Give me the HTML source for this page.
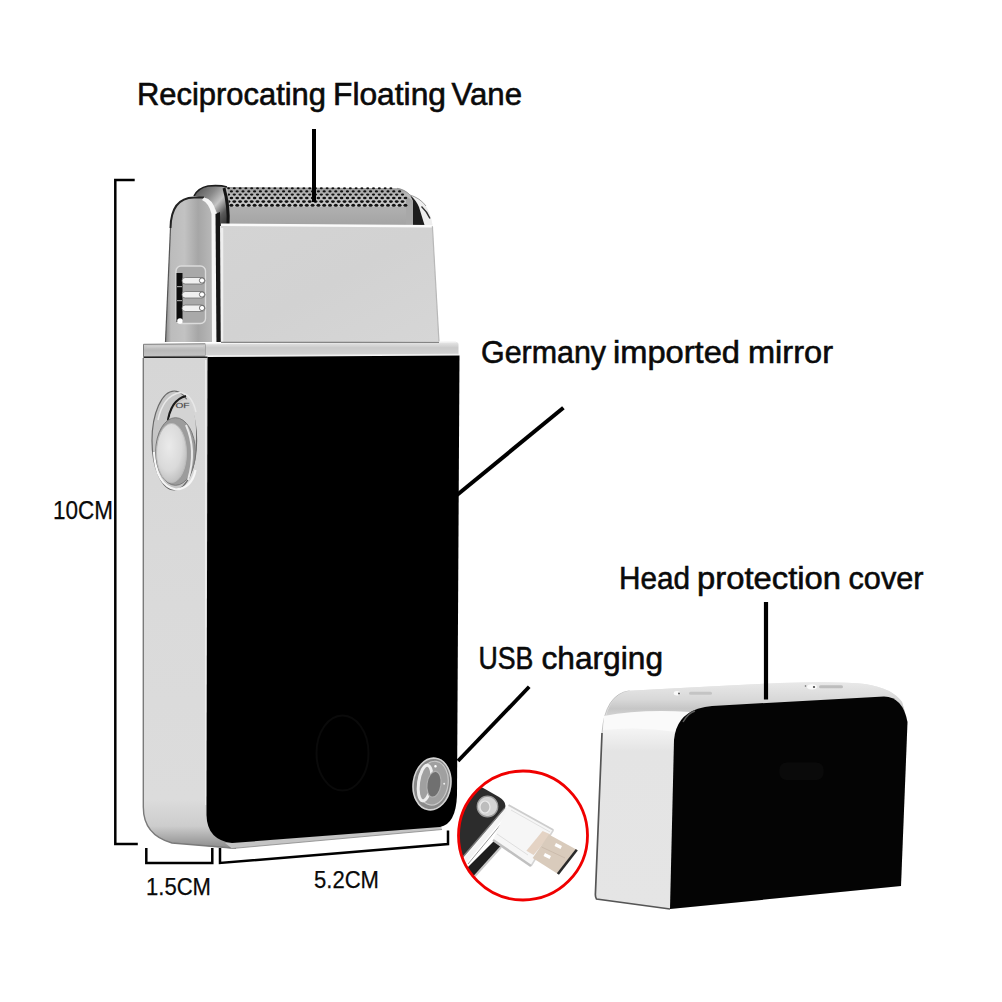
<!DOCTYPE html>
<html><head><meta charset="utf-8"><title>Shaver</title>
<style>
html,body{margin:0;padding:0;background:#fff;width:1002px;height:1002px;overflow:hidden}
svg{display:block}
text{font-family:"Liberation Sans",sans-serif;fill:#0a0a0a}
</style></head>
<body>
<svg width="1002" height="1002" viewBox="0 0 1002 1002">
<defs>
  <linearGradient id="sideG" gradientUnits="userSpaceOnUse" x1="0" y1="358" x2="0" y2="848">
    <stop offset="0" stop-color="#d6d6d6"/>
    <stop offset="0.5" stop-color="#dadada"/>
    <stop offset="0.9" stop-color="#dcdcdc"/>
    <stop offset="0.955" stop-color="#cdcdcd"/>
    <stop offset="1" stop-color="#8c8c8c"/>
  </linearGradient>
  <linearGradient id="plateG" x1="0" y1="0" x2="1" y2="1">
    <stop offset="0" stop-color="#d4d4d4"/>
    <stop offset="0.5" stop-color="#d2d2d2"/>
    <stop offset="1" stop-color="#d6d6d6"/>
  </linearGradient>
  <linearGradient id="sidePieceG" x1="0" y1="0" x2="1" y2="0">
    <stop offset="0" stop-color="#8a8a8a"/>
    <stop offset="0.1" stop-color="#bcbcbc"/>
    <stop offset="0.35" stop-color="#c2c2c2"/>
    <stop offset="0.6" stop-color="#a6a6a6"/>
    <stop offset="0.85" stop-color="#b8b8b8"/>
    <stop offset="1" stop-color="#d0d0d0"/>
  </linearGradient>
  <pattern id="mesh" width="5.8" height="6.6" patternUnits="userSpaceOnUse" x="226" y="187">
    <rect width="5.8" height="6.6" fill="#d2d2d2"/>
    <ellipse cx="1.5" cy="1.6" rx="1.35" ry="1.15" fill="#111"/>
    <ellipse cx="4.4" cy="4.9" rx="1.35" ry="1.15" fill="#111"/>
  </pattern>
  <linearGradient id="foilShade" x1="0" y1="0" x2="0" y2="1">
    <stop offset="0" stop-color="#000" stop-opacity="0.25"/>
    <stop offset="0.4" stop-color="#000" stop-opacity="0.08"/>
    <stop offset="1" stop-color="#000" stop-opacity="0"/>
  </linearGradient>
  <linearGradient id="foilLow" x1="0" y1="0" x2="0" y2="1">
    <stop offset="0" stop-color="#b0b0b0"/>
    <stop offset="1" stop-color="#a4a4a4"/>
  </linearGradient>
  <linearGradient id="coverSideG" gradientUnits="userSpaceOnUse" x1="0" y1="684" x2="0" y2="909">
    <stop offset="0" stop-color="#e6e6e6"/>
    <stop offset="0.08" stop-color="#dadada"/>
    <stop offset="0.2" stop-color="#f4f4f4"/>
    <stop offset="0.3" stop-color="#e4e4e4"/>
    <stop offset="1" stop-color="#e5e5e5"/>
  </linearGradient>
  <radialGradient id="btnG" cx="0.42" cy="0.38" r="0.7">
    <stop offset="0" stop-color="#eaeaea"/>
    <stop offset="0.6" stop-color="#dadada"/>
    <stop offset="1" stop-color="#b8b8b8"/>
  </radialGradient>
  <linearGradient id="rimL" x1="0" y1="0" x2="0" y2="1">
    <stop offset="0" stop-color="#d4d4d4"/>
    <stop offset="0.5" stop-color="#b8b8b8"/>
    <stop offset="1" stop-color="#c4c4c4"/>
  </linearGradient>
  <linearGradient id="rimR" x1="0" y1="0" x2="0" y2="1">
    <stop offset="0" stop-color="#e8e8e8"/>
    <stop offset="0.4" stop-color="#cacaca"/>
    <stop offset="1" stop-color="#d4d4d4"/>
  </linearGradient>
  <linearGradient id="capG" x1="0" y1="0" x2="1" y2="1">
    <stop offset="0" stop-color="#4a4a4a"/>
    <stop offset="0.35" stop-color="#8a8a8a"/>
    <stop offset="0.55" stop-color="#c4c4c4"/>
    <stop offset="0.75" stop-color="#5a5a5a"/>
    <stop offset="1" stop-color="#2a2a2a"/>
  </linearGradient>
  <linearGradient id="coverTopG" gradientUnits="userSpaceOnUse" x1="0" y1="683" x2="0" y2="716">
    <stop offset="0" stop-color="#e8e8e8"/>
    <stop offset="0.5" stop-color="#d8d8d8"/>
    <stop offset="0.78" stop-color="#c6c6c6"/>
    <stop offset="1" stop-color="#d4d4d4"/>
  </linearGradient>
  <clipPath id="circClip"><circle cx="523" cy="835.5" r="64"/></clipPath>
</defs>

<!-- ===== labels ===== -->
<g stroke="#0a0a0a" stroke-width="0.6">
<text x="137" y="104.5" font-size="31" textLength="189.0" lengthAdjust="spacingAndGlyphs">Reciprocating</text>
<text x="333.0" y="104.5" font-size="31" textLength="113.0" lengthAdjust="spacingAndGlyphs">Floating</text>
<text x="451.5" y="104.5" font-size="31" textLength="70.5" lengthAdjust="spacingAndGlyphs">Vane</text>
<text x="481.0" y="362.5" font-size="32" textLength="125.0" lengthAdjust="spacingAndGlyphs">Germany</text>
<text x="613.0" y="362.5" font-size="32" textLength="127.0" lengthAdjust="spacingAndGlyphs">imported</text>
<text x="748.0" y="362.5" font-size="32" textLength="85.0" lengthAdjust="spacingAndGlyphs">mirror</text>
<text x="619" y="589" font-size="32" textLength="71.0" lengthAdjust="spacingAndGlyphs">Head</text>
<text x="697" y="589" font-size="32" textLength="144.0" lengthAdjust="spacingAndGlyphs">protection</text>
<text x="848.5" y="589" font-size="32" textLength="75.0" lengthAdjust="spacingAndGlyphs">cover</text>
<text x="478.5" y="668.8" font-size="32" textLength="54.9" lengthAdjust="spacingAndGlyphs">USB</text>
<text x="541.5" y="668.8" font-size="32" textLength="121.5" lengthAdjust="spacingAndGlyphs">charging</text>
</g>
<g stroke="#0a0a0a" stroke-width="0.25">
<text x="53" y="519" font-size="26" textLength="60" lengthAdjust="spacingAndGlyphs">10CM</text>
<text x="146" y="894.6" font-size="24.5" textLength="65" lengthAdjust="spacingAndGlyphs">1.5CM</text>
<text x="314" y="888" font-size="24.5" textLength="65" lengthAdjust="spacingAndGlyphs">5.2CM</text>
</g>

<!-- ===== brackets & pointers ===== -->
<g fill="none" stroke="#000" stroke-width="2.5">
  <polyline points="134.7,180 115.3,180 115.3,844 137.8,844"/>
  <polyline points="146.3,848 146.3,863 212.3,863 212.3,848"/>
  <polyline points="220,848 220,863 448,844 448,830.5"/>
</g>


<!-- ===== main shaver ===== -->
<!-- foil -->
<path d="M224,187 L397,188.3 Q405,189.5 410,195 L413,201 L413,226 L222,226 Z" fill="#c8c8c8"/>
<path d="M222,206.8 L413,206.8 L413,225 L222,225 Z" fill="url(#foilLow)"/>
<path d="M406,196 L413,201 L413,225 L406,225 Z" fill="#a8a8a8"/>
<g fill="#121212"><ellipse cx="228.5" cy="188.3" rx="1.5" ry="0.95"/><ellipse cx="234.3" cy="188.3" rx="1.5" ry="0.95"/><ellipse cx="240.1" cy="188.3" rx="1.5" ry="0.95"/><ellipse cx="245.9" cy="188.3" rx="1.5" ry="0.95"/><ellipse cx="251.7" cy="188.3" rx="1.5" ry="0.95"/><ellipse cx="257.5" cy="188.3" rx="1.5" ry="0.95"/><ellipse cx="263.3" cy="188.3" rx="1.5" ry="0.95"/><ellipse cx="269.1" cy="188.3" rx="1.5" ry="0.95"/><ellipse cx="274.9" cy="188.3" rx="1.5" ry="0.95"/><ellipse cx="280.7" cy="188.3" rx="1.5" ry="0.95"/><ellipse cx="286.5" cy="188.3" rx="1.5" ry="0.95"/><ellipse cx="292.3" cy="188.3" rx="1.5" ry="0.95"/><ellipse cx="298.1" cy="188.3" rx="1.5" ry="0.95"/><ellipse cx="303.9" cy="188.3" rx="1.5" ry="0.95"/><ellipse cx="309.7" cy="188.3" rx="1.5" ry="0.95"/><ellipse cx="315.5" cy="188.3" rx="1.5" ry="0.95"/><ellipse cx="321.3" cy="188.3" rx="1.5" ry="0.95"/><ellipse cx="327.1" cy="188.3" rx="1.5" ry="0.95"/><ellipse cx="332.9" cy="188.3" rx="1.5" ry="0.95"/><ellipse cx="338.7" cy="188.3" rx="1.5" ry="0.95"/><ellipse cx="344.5" cy="188.3" rx="1.5" ry="0.95"/><ellipse cx="350.3" cy="188.3" rx="1.5" ry="0.95"/><ellipse cx="356.1" cy="188.3" rx="1.5" ry="0.95"/><ellipse cx="361.9" cy="188.3" rx="1.5" ry="0.95"/><ellipse cx="367.7" cy="188.3" rx="1.5" ry="0.95"/><ellipse cx="373.5" cy="188.3" rx="1.5" ry="0.95"/><ellipse cx="379.3" cy="188.3" rx="1.5" ry="0.95"/><ellipse cx="385.1" cy="188.3" rx="1.5" ry="0.95"/><ellipse cx="390.9" cy="188.3" rx="1.5" ry="0.95"/><ellipse cx="231.4" cy="191.4" rx="1.6" ry="1.05"/><ellipse cx="237.2" cy="191.4" rx="1.6" ry="1.05"/><ellipse cx="243.0" cy="191.4" rx="1.6" ry="1.05"/><ellipse cx="248.8" cy="191.4" rx="1.6" ry="1.05"/><ellipse cx="254.6" cy="191.4" rx="1.6" ry="1.05"/><ellipse cx="260.4" cy="191.4" rx="1.6" ry="1.05"/><ellipse cx="266.2" cy="191.4" rx="1.6" ry="1.05"/><ellipse cx="272.0" cy="191.4" rx="1.6" ry="1.05"/><ellipse cx="277.8" cy="191.4" rx="1.6" ry="1.05"/><ellipse cx="283.6" cy="191.4" rx="1.6" ry="1.05"/><ellipse cx="289.4" cy="191.4" rx="1.6" ry="1.05"/><ellipse cx="295.2" cy="191.4" rx="1.6" ry="1.05"/><ellipse cx="301.0" cy="191.4" rx="1.6" ry="1.05"/><ellipse cx="306.8" cy="191.4" rx="1.6" ry="1.05"/><ellipse cx="312.6" cy="191.4" rx="1.6" ry="1.05"/><ellipse cx="318.4" cy="191.4" rx="1.6" ry="1.05"/><ellipse cx="324.2" cy="191.4" rx="1.6" ry="1.05"/><ellipse cx="330.0" cy="191.4" rx="1.6" ry="1.05"/><ellipse cx="335.8" cy="191.4" rx="1.6" ry="1.05"/><ellipse cx="341.6" cy="191.4" rx="1.6" ry="1.05"/><ellipse cx="347.4" cy="191.4" rx="1.6" ry="1.05"/><ellipse cx="353.2" cy="191.4" rx="1.6" ry="1.05"/><ellipse cx="359.0" cy="191.4" rx="1.6" ry="1.05"/><ellipse cx="364.8" cy="191.4" rx="1.6" ry="1.05"/><ellipse cx="370.6" cy="191.4" rx="1.6" ry="1.05"/><ellipse cx="376.4" cy="191.4" rx="1.6" ry="1.05"/><ellipse cx="382.2" cy="191.4" rx="1.6" ry="1.05"/><ellipse cx="388.0" cy="191.4" rx="1.6" ry="1.05"/><ellipse cx="393.8" cy="191.4" rx="1.6" ry="1.05"/><ellipse cx="399.6" cy="191.4" rx="1.6" ry="1.05"/><ellipse cx="228.5" cy="194.6" rx="1.7" ry="1.15"/><ellipse cx="234.3" cy="194.6" rx="1.7" ry="1.15"/><ellipse cx="240.1" cy="194.6" rx="1.7" ry="1.15"/><ellipse cx="245.9" cy="194.6" rx="1.7" ry="1.15"/><ellipse cx="251.7" cy="194.6" rx="1.7" ry="1.15"/><ellipse cx="257.5" cy="194.6" rx="1.7" ry="1.15"/><ellipse cx="263.3" cy="194.6" rx="1.7" ry="1.15"/><ellipse cx="269.1" cy="194.6" rx="1.7" ry="1.15"/><ellipse cx="274.9" cy="194.6" rx="1.7" ry="1.15"/><ellipse cx="280.7" cy="194.6" rx="1.7" ry="1.15"/><ellipse cx="286.5" cy="194.6" rx="1.7" ry="1.15"/><ellipse cx="292.3" cy="194.6" rx="1.7" ry="1.15"/><ellipse cx="298.1" cy="194.6" rx="1.7" ry="1.15"/><ellipse cx="303.9" cy="194.6" rx="1.7" ry="1.15"/><ellipse cx="309.7" cy="194.6" rx="1.7" ry="1.15"/><ellipse cx="315.5" cy="194.6" rx="1.7" ry="1.15"/><ellipse cx="321.3" cy="194.6" rx="1.7" ry="1.15"/><ellipse cx="327.1" cy="194.6" rx="1.7" ry="1.15"/><ellipse cx="332.9" cy="194.6" rx="1.7" ry="1.15"/><ellipse cx="338.7" cy="194.6" rx="1.7" ry="1.15"/><ellipse cx="344.5" cy="194.6" rx="1.7" ry="1.15"/><ellipse cx="350.3" cy="194.6" rx="1.7" ry="1.15"/><ellipse cx="356.1" cy="194.6" rx="1.7" ry="1.15"/><ellipse cx="361.9" cy="194.6" rx="1.7" ry="1.15"/><ellipse cx="367.7" cy="194.6" rx="1.7" ry="1.15"/><ellipse cx="373.5" cy="194.6" rx="1.7" ry="1.15"/><ellipse cx="379.3" cy="194.6" rx="1.7" ry="1.15"/><ellipse cx="385.1" cy="194.6" rx="1.7" ry="1.15"/><ellipse cx="390.9" cy="194.6" rx="1.7" ry="1.15"/><ellipse cx="396.7" cy="194.6" rx="1.7" ry="1.15"/><ellipse cx="402.5" cy="194.6" rx="1.7" ry="1.15"/><ellipse cx="231.4" cy="198.0" rx="1.8" ry="1.3"/><ellipse cx="237.2" cy="198.0" rx="1.8" ry="1.3"/><ellipse cx="243.0" cy="198.0" rx="1.8" ry="1.3"/><ellipse cx="248.8" cy="198.0" rx="1.8" ry="1.3"/><ellipse cx="254.6" cy="198.0" rx="1.8" ry="1.3"/><ellipse cx="260.4" cy="198.0" rx="1.8" ry="1.3"/><ellipse cx="266.2" cy="198.0" rx="1.8" ry="1.3"/><ellipse cx="272.0" cy="198.0" rx="1.8" ry="1.3"/><ellipse cx="277.8" cy="198.0" rx="1.8" ry="1.3"/><ellipse cx="283.6" cy="198.0" rx="1.8" ry="1.3"/><ellipse cx="289.4" cy="198.0" rx="1.8" ry="1.3"/><ellipse cx="295.2" cy="198.0" rx="1.8" ry="1.3"/><ellipse cx="301.0" cy="198.0" rx="1.8" ry="1.3"/><ellipse cx="306.8" cy="198.0" rx="1.8" ry="1.3"/><ellipse cx="312.6" cy="198.0" rx="1.8" ry="1.3"/><ellipse cx="318.4" cy="198.0" rx="1.8" ry="1.3"/><ellipse cx="324.2" cy="198.0" rx="1.8" ry="1.3"/><ellipse cx="330.0" cy="198.0" rx="1.8" ry="1.3"/><ellipse cx="335.8" cy="198.0" rx="1.8" ry="1.3"/><ellipse cx="341.6" cy="198.0" rx="1.8" ry="1.3"/><ellipse cx="347.4" cy="198.0" rx="1.8" ry="1.3"/><ellipse cx="353.2" cy="198.0" rx="1.8" ry="1.3"/><ellipse cx="359.0" cy="198.0" rx="1.8" ry="1.3"/><ellipse cx="364.8" cy="198.0" rx="1.8" ry="1.3"/><ellipse cx="370.6" cy="198.0" rx="1.8" ry="1.3"/><ellipse cx="376.4" cy="198.0" rx="1.8" ry="1.3"/><ellipse cx="382.2" cy="198.0" rx="1.8" ry="1.3"/><ellipse cx="388.0" cy="198.0" rx="1.8" ry="1.3"/><ellipse cx="393.8" cy="198.0" rx="1.8" ry="1.3"/><ellipse cx="399.6" cy="198.0" rx="1.8" ry="1.3"/><ellipse cx="405.4" cy="198.0" rx="1.8" ry="1.3"/><ellipse cx="228.5" cy="201.6" rx="1.9" ry="1.45"/><ellipse cx="234.3" cy="201.6" rx="1.9" ry="1.45"/><ellipse cx="240.1" cy="201.6" rx="1.9" ry="1.45"/><ellipse cx="245.9" cy="201.6" rx="1.9" ry="1.45"/><ellipse cx="251.7" cy="201.6" rx="1.9" ry="1.45"/><ellipse cx="257.5" cy="201.6" rx="1.9" ry="1.45"/><ellipse cx="263.3" cy="201.6" rx="1.9" ry="1.45"/><ellipse cx="269.1" cy="201.6" rx="1.9" ry="1.45"/><ellipse cx="274.9" cy="201.6" rx="1.9" ry="1.45"/><ellipse cx="280.7" cy="201.6" rx="1.9" ry="1.45"/><ellipse cx="286.5" cy="201.6" rx="1.9" ry="1.45"/><ellipse cx="292.3" cy="201.6" rx="1.9" ry="1.45"/><ellipse cx="298.1" cy="201.6" rx="1.9" ry="1.45"/><ellipse cx="303.9" cy="201.6" rx="1.9" ry="1.45"/><ellipse cx="309.7" cy="201.6" rx="1.9" ry="1.45"/><ellipse cx="315.5" cy="201.6" rx="1.9" ry="1.45"/><ellipse cx="321.3" cy="201.6" rx="1.9" ry="1.45"/><ellipse cx="327.1" cy="201.6" rx="1.9" ry="1.45"/><ellipse cx="332.9" cy="201.6" rx="1.9" ry="1.45"/><ellipse cx="338.7" cy="201.6" rx="1.9" ry="1.45"/><ellipse cx="344.5" cy="201.6" rx="1.9" ry="1.45"/><ellipse cx="350.3" cy="201.6" rx="1.9" ry="1.45"/><ellipse cx="356.1" cy="201.6" rx="1.9" ry="1.45"/><ellipse cx="361.9" cy="201.6" rx="1.9" ry="1.45"/><ellipse cx="367.7" cy="201.6" rx="1.9" ry="1.45"/><ellipse cx="373.5" cy="201.6" rx="1.9" ry="1.45"/><ellipse cx="379.3" cy="201.6" rx="1.9" ry="1.45"/><ellipse cx="385.1" cy="201.6" rx="1.9" ry="1.45"/><ellipse cx="390.9" cy="201.6" rx="1.9" ry="1.45"/><ellipse cx="396.7" cy="201.6" rx="1.9" ry="1.45"/><ellipse cx="402.5" cy="201.6" rx="1.9" ry="1.45"/><ellipse cx="231.4" cy="205.2" rx="1.95" ry="1.5"/><ellipse cx="237.2" cy="205.2" rx="1.95" ry="1.5"/><ellipse cx="243.0" cy="205.2" rx="1.95" ry="1.5"/><ellipse cx="248.8" cy="205.2" rx="1.95" ry="1.5"/><ellipse cx="254.6" cy="205.2" rx="1.95" ry="1.5"/><ellipse cx="260.4" cy="205.2" rx="1.95" ry="1.5"/><ellipse cx="266.2" cy="205.2" rx="1.95" ry="1.5"/><ellipse cx="272.0" cy="205.2" rx="1.95" ry="1.5"/><ellipse cx="277.8" cy="205.2" rx="1.95" ry="1.5"/><ellipse cx="283.6" cy="205.2" rx="1.95" ry="1.5"/><ellipse cx="289.4" cy="205.2" rx="1.95" ry="1.5"/><ellipse cx="295.2" cy="205.2" rx="1.95" ry="1.5"/><ellipse cx="301.0" cy="205.2" rx="1.95" ry="1.5"/><ellipse cx="306.8" cy="205.2" rx="1.95" ry="1.5"/><ellipse cx="312.6" cy="205.2" rx="1.95" ry="1.5"/><ellipse cx="318.4" cy="205.2" rx="1.95" ry="1.5"/><ellipse cx="324.2" cy="205.2" rx="1.95" ry="1.5"/><ellipse cx="330.0" cy="205.2" rx="1.95" ry="1.5"/><ellipse cx="335.8" cy="205.2" rx="1.95" ry="1.5"/><ellipse cx="341.6" cy="205.2" rx="1.95" ry="1.5"/><ellipse cx="347.4" cy="205.2" rx="1.95" ry="1.5"/><ellipse cx="353.2" cy="205.2" rx="1.95" ry="1.5"/><ellipse cx="359.0" cy="205.2" rx="1.95" ry="1.5"/><ellipse cx="364.8" cy="205.2" rx="1.95" ry="1.5"/><ellipse cx="370.6" cy="205.2" rx="1.95" ry="1.5"/><ellipse cx="376.4" cy="205.2" rx="1.95" ry="1.5"/><ellipse cx="382.2" cy="205.2" rx="1.95" ry="1.5"/><ellipse cx="388.0" cy="205.2" rx="1.95" ry="1.5"/><ellipse cx="393.8" cy="205.2" rx="1.95" ry="1.5"/><ellipse cx="399.6" cy="205.2" rx="1.95" ry="1.5"/><ellipse cx="405.4" cy="205.2" rx="1.95" ry="1.5"/></g>
<path d="M224,187 L397,188.3 Q405,189.5 410,195 L413,201 L413,206 L222,206 Z" fill="url(#foilShade)"/>
<!-- right end cap -->
<path d="M410,195 Q420,198 426,206 Q431,214 432.6,225.5 L424.5,225 L419,207 Q416,200 410,195 Z" fill="#eeeeee"/>
<path d="M410,195 Q416,200 419,207 L424.5,225 L413,225 L413,201 Z" fill="#1c1c1c"/>
<path d="M421.5,206.5 Q427,211.5 430,218.5" fill="none" stroke="#2e2e2e" stroke-width="1.4"/>
<path d="M397,188.3 Q405,189.5 410,195 Q420,198 426,206" fill="none" stroke="#888" stroke-width="0.8"/>
<!-- left end cap (back) -->
<path d="M194,196 Q198,188 208,186 Q220,185 227,187 Q230,205 229,226 L220,226 Q217,204 204,198 Z" fill="url(#capG)"/>
<path d="M194,196 Q198,188 208,186 Q220,185 227,187" fill="none" stroke="#1c1c1c" stroke-width="1.6"/>
<path d="M224,188 Q229,205 228,226" fill="none" stroke="#151515" stroke-width="3"/>
<!-- side piece -->
<path d="M170.5,228 Q171,198 194,197.5 L204,197.5 Q213,199 216,212 L220,342 L165.5,342 Z" fill="url(#sidePieceG)"/>
<path d="M170.5,228 Q171,198 194,197.5 L204,197.5" fill="none" stroke="#222" stroke-width="2"/>
<path d="M170.5,228 L165.5,342" fill="none" stroke="#555" stroke-width="1.2"/>
<path d="M204,197.5 Q213,199 216,212 L216.5,342 L212,342 L211.5,214 Q209,203 202,200 Z" fill="#f6f6f6"/>
<path d="M215.5,214 L220,212 L221,342 L216.5,342 Z" fill="#151515"/>
<!-- slots -->
<rect x="176" y="266" width="29.5" height="57.5" rx="5" fill="#a9a9a9" stroke="#dcdcdc" stroke-width="1.4"/>
<rect x="176.5" y="273" width="6" height="49" fill="#0d0d0d"/>
<rect x="177" y="286" width="5" height="1.2" fill="#9a9a9a"/>
<rect x="177" y="300" width="5" height="1.2" fill="#9a9a9a"/>
<circle cx="180" cy="321" r="2.8" fill="#fff"/>
<g>
  <rect x="182" y="277.5" width="23" height="6.5" rx="3.2" fill="#f0f0f0" stroke="#6e6e6e" stroke-width="0.8"/>
  <rect x="182" y="291.5" width="23" height="6.5" rx="3.2" fill="#f0f0f0" stroke="#6e6e6e" stroke-width="0.8"/>
  <rect x="182" y="305" width="23" height="6.5" rx="3.2" fill="#f0f0f0" stroke="#6e6e6e" stroke-width="0.8"/>
  <circle cx="202" cy="280.5" r="2.6" fill="#fff" stroke="#555" stroke-width="0.8"/>
  <circle cx="202" cy="294.5" r="2.6" fill="#fff" stroke="#555" stroke-width="0.8"/>
  <circle cx="202" cy="308" r="2.6" fill="#fff" stroke="#555" stroke-width="0.8"/>
</g>
<!-- front plate -->
<path d="M221,224.5 L432.4,226 L439,342 L221,342 Z" fill="url(#plateG)"/>
<path d="M221,224.8 L432.4,226.2" stroke="#fafafa" stroke-width="2.5"/>
<path d="M222,228 L222,342" stroke="#efefef" stroke-width="2.5"/>
<path d="M432.4,226.3 L439,342" stroke="#b8b8b8" stroke-width="1.2"/>
<!-- rim -->
<path d="M143.5,344.3 L205.5,343.8 L205.5,356.2 L143.5,356.6 Z" fill="url(#rimL)" stroke="#7c7c7c" stroke-width="1"/>
<path d="M205.5,343.8 L456,342 Q458.5,342 458.5,344.5 L458.5,354.5 L205.5,356.2 Z" fill="url(#rimR)"/>
<path d="M205.5,343.6 L456,341.8" stroke="#f4f4f4" stroke-width="1.2"/>
<path d="M205.5,356 L458,354.3" stroke="#f0f0f0" stroke-width="1.3"/>
<path d="M221,342.3 L439,342.3" stroke="#6a6a6a" stroke-width="1"/>
<path d="M147,346.8 L203,346.5" stroke="#d0d0d0" stroke-width="1"/>
<path d="M143.5,357.5 L207.5,357.3" stroke="#222" stroke-width="1.5"/>
<!-- body side -->
<path d="M143,358 L207.5,358 L207.5,846 L232,848 L172,843 Q143,835 143,807 Z" fill="url(#sideG)"/>
<path d="M206,790 L236,790 L236,849 L232,848.5 L206,846 Z" fill="url(#sideG)"/>
<path d="M143.3,358 L143.3,807 Q143.3,835 172,843 L232,848" fill="none" stroke="#7a7a7a" stroke-width="1.4"/>
<path d="M205.8,360 L205.8,805" stroke="#f2f2f2" stroke-width="1.3"/>
<!-- bottom strip -->
<path d="M225,843 L441,826 L442,829.5 L232,848.5 Z" fill="#c4c4c4"/>
<path d="M232,848.5 L442,829.5" stroke="#888" stroke-width="0.8"/>
<!-- black front -->
<path d="M207.5,357 L459.5,355.5 L457,795 Q456,824 440,827 L232,843 Q207,840 206.5,815 Z" fill="#000"/>
<ellipse cx="342.5" cy="753" rx="26" ry="37.5" fill="none" stroke="#0a0a0a" stroke-width="2"/>
<!-- lens -->
<g transform="rotate(8 432 784)">
<ellipse cx="432" cy="784" rx="18.8" ry="26" fill="#8a8a8a" stroke="#d4d4d4" stroke-width="1.6"/>
<ellipse cx="433" cy="783" rx="15" ry="22" fill="#a0a0a0" stroke="#c8c8c8" stroke-width="1.2"/>
<ellipse cx="425" cy="784" rx="6.5" ry="18" fill="none" stroke="#eeeeee" stroke-width="3"/>
<ellipse cx="434" cy="784" rx="7" ry="13" fill="#707070" stroke="#b0b0b0" stroke-width="1.2"/>
<circle cx="433" cy="766" r="1.3" fill="#fff"/>
<circle cx="444" cy="782" r="1" fill="#eee"/>
</g>
<!-- switch -->
<ellipse cx="174.3" cy="440.5" rx="22.3" ry="49.5" fill="#c6c6c6" stroke="#6a6a6a" stroke-width="1.2"/>
<path d="M154,452 Q156,486 176,489.5 Q192,488 195.5,470" fill="none" stroke="#f6f6f6" stroke-width="2.2"/>
<path d="M158,420 Q163,396 180,392.5 Q192,394 196,412" fill="none" stroke="#e8e8e8" stroke-width="1.5"/>
<path d="M186,396 Q170,400 167.5,424" fill="none" stroke="#1a1a1a" stroke-width="2.2"/>
<path d="M168.5,424 Q171,402 188,399 Q196,410 196,430 L196,440 L168,440 Z" fill="#d4d4d4"/>
<text x="175.5" y="408" font-size="8" fill="#8c8c8c" stroke="#8c8c8c" stroke-width="0.3" textLength="14" lengthAdjust="spacingAndGlyphs">OF</text>
<ellipse cx="175.5" cy="451.5" rx="19.8" ry="33.8" fill="#9c9c9c" stroke="#7a7a7a" stroke-width="1"/>
<path d="M186,425 Q197,450 188,480" fill="none" stroke="#e8e8e8" stroke-width="2"/>
<ellipse cx="171.5" cy="453" rx="15" ry="29.5" fill="url(#btnG)" stroke="#bdbdbd" stroke-width="1"/>
<!-- ===== cover ===== -->
<path d="M629.5,690.8 Q700,686.5 780,683 Q840,681 865,684 Q892,688 902,702 L907.5,722 L901,886 L670,909 L596,899 Q595,897 595.2,894 L602,733 Q605,694 629.5,690.8 Z" fill="url(#coverSideG)"/>
<path d="M602,733 L595.4,894 Q595.2,897 596.5,899 L670,909" fill="none" stroke="#555" stroke-width="1.7"/>
<path d="M602,733 Q605,694 629.5,690.8" fill="none" stroke="#b8b8b8" stroke-width="0.8"/>
<!-- top face -->
<path d="M629.5,690.8 Q700,686.5 780,683 Q840,681 865,684 Q892,688 902,702 L905,712 Q895,697 884,696.4 L712,706 Q690,709 680,725 Q650,712 606,716 Q612,694 629.5,690.8 Z" fill="url(#coverTopG)"/>
<!-- highlight band on left face -->
<path d="M604,716 Q640,709 690,712 Q680,722 677,732 Q640,726 603,730 Z" fill="#fafafa"/>
<!-- small top buttons -->
<ellipse cx="677" cy="693.3" rx="3.2" ry="2.2" fill="#fafafa"/>
<circle cx="679" cy="693.5" r="1" fill="#555"/>
<rect x="689" y="691.8" width="23" height="3" rx="1.5" fill="#c4c4c4"/>
<ellipse cx="812" cy="686.8" rx="5" ry="2.6" fill="#fafafa"/>
<circle cx="814" cy="687" r="1.1" fill="#444"/>
<circle cx="805.5" cy="686" r="0.8" fill="#666"/>
<rect x="819" y="685.2" width="24" height="3" rx="1.5" fill="#bdbdbd"/>
<path d="M697.8,708.7 Q705,706.5 712,706 L884,696.4 Q903,697 907.5,722 L901,886 L670,909 L674,740 Q676,716 697.8,708.7 Z" fill="#040404"/>
<path d="M683,722 Q688,713 695,711" fill="none" stroke="#5a5a5a" stroke-width="1.5"/>
<rect x="779.5" y="762.5" width="44" height="17.5" rx="7" fill="#0a0a0a"/>

<!-- pointers (on top) -->
<g stroke="#000" stroke-width="3.5">
  <line x1="314" y1="129" x2="314" y2="202" stroke-width="4"/>
  <line x1="563.4" y1="407.8" x2="457" y2="495" stroke-width="4"/>
  <line x1="529.2" y1="686.8" x2="458" y2="761" stroke-width="3.8"/>
  <line x1="766" y1="602" x2="766" y2="699.5" stroke-width="4.2"/>
</g>
<!-- ===== inset ===== -->
<g clip-path="url(#circClip)">
  <!-- black face -->
  <path d="M430,760 L485,789 L499,797 Q507,802 505,808 L462,858 L420,880 Z" fill="#2c2c2c"/>
  <circle cx="487.5" cy="806.5" r="10.3" fill="#d4d4d4"/>
  <circle cx="487.5" cy="806.5" r="10.3" fill="none" stroke="#9a9a9a" stroke-width="1.2"/>
  <ellipse cx="485" cy="807" rx="5" ry="6" fill="#bdbdbd" stroke="#eaeaea" stroke-width="1.2"/>
  <!-- edge lines -->
  <path d="M505,808 L462,858" stroke="#7a7a7a" stroke-width="1.5"/>
  <path d="M508,809 L465,861" stroke="#f4f4f4" stroke-width="5"/>
  <path d="M511,812 L468,864" stroke="#9a9a9a" stroke-width="1"/>
  <!-- dark strip -->
  <path d="M494,841 L501,847 L474,877 L466,869 Z" fill="#1e1e1e"/>
  <path d="M501,847 L474,877" stroke="#c8c8c8" stroke-width="2"/>
  <!-- clear housing -->
  <path d="M508.5,805 L553.4,830 L531,866 L493,840 Z" fill="#f6f6f6"/>
  <path d="M508.5,805 L553.4,830" stroke="#cdcdcd" stroke-width="2"/>
  <path d="M511,810 L550,832" stroke="#e0e0e0" stroke-width="1"/>
  <path d="M553.4,830 L531,866" stroke="#d4d4d4" stroke-width="1.5"/>
  <path d="M493,840 L531,866" stroke="#c0c0c0" stroke-width="2.5"/>
  <path d="M497,834 L528,855" stroke="#dedede" stroke-width="1"/>
  <!-- connector -->
  <path d="M526.4,850.7 L542.6,831 L550.7,834.5 L533.6,855 Z" fill="#e4d3c4"/>
  <path d="M532.7,857.9 L548.9,834.5 L576.8,849.8 L557.9,874 Z" fill="#d9cbbc"/>
  <path d="M576.8,849.8 L557.9,874" stroke="#2a2a2a" stroke-width="2.6"/>
  <path d="M541.7,847 L565,858" stroke="#c8b8a8" stroke-width="0.8"/>
  <path d="M556,843 L562,846 L560.5,849 L554.5,846 Z" fill="#fff"/>
  <path d="M545,853 L551,856 L549.5,859 L543.5,856 Z" fill="#fff"/>
</g>
<circle cx="523" cy="835.5" r="64.5" fill="none" stroke="#f00000" stroke-width="2.8"/>
</svg>
</body></html>
